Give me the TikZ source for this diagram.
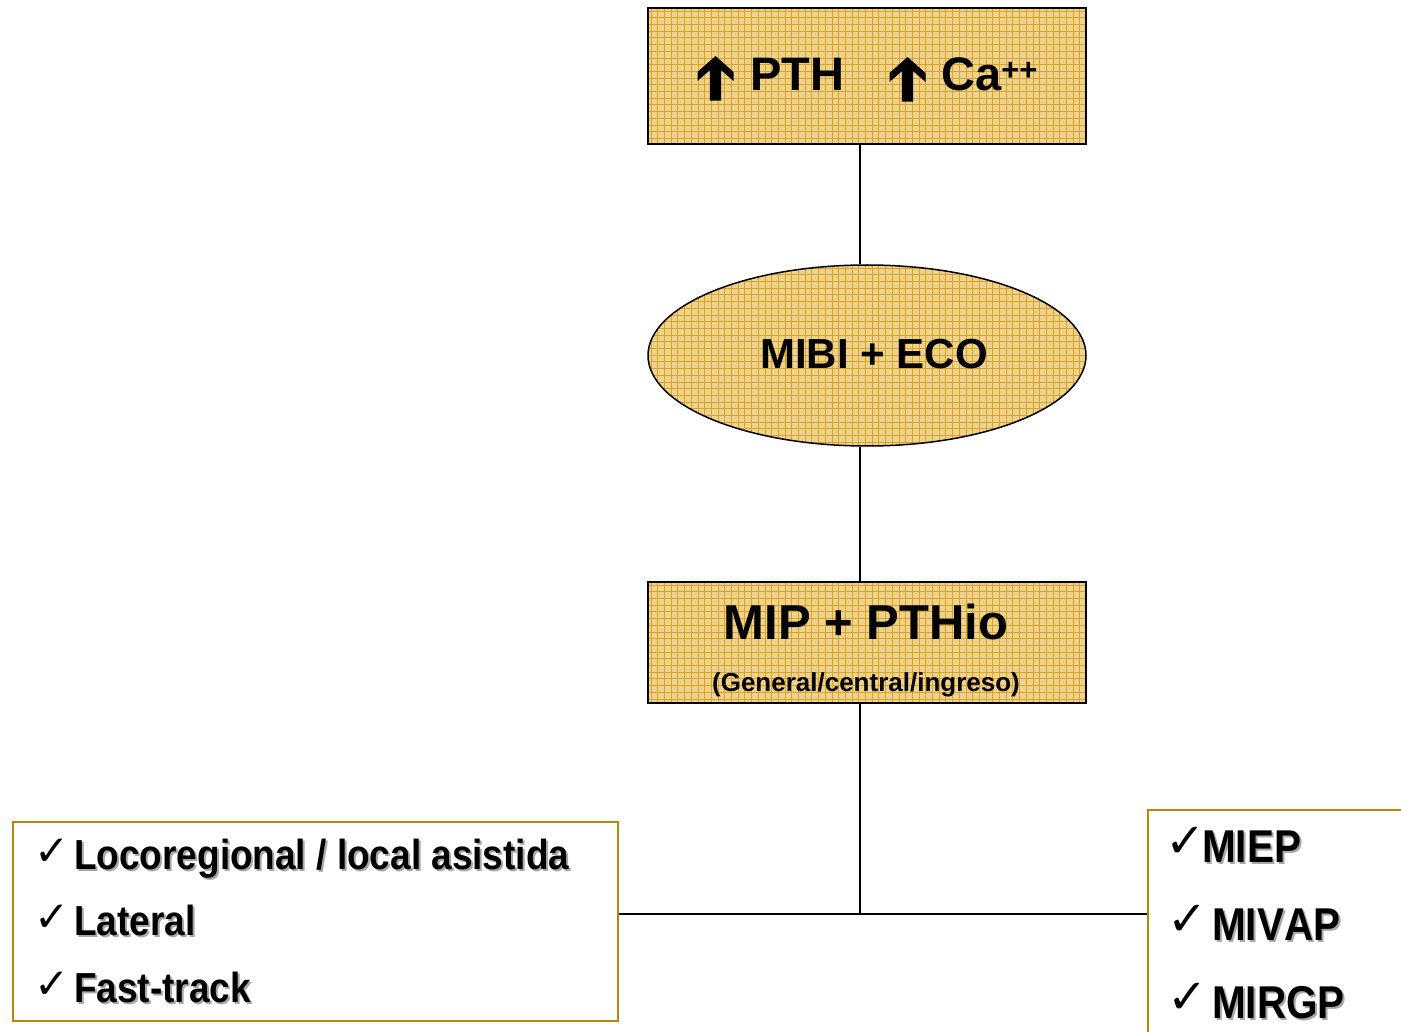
\documentclass[tikz,border=0pt]{standalone}
\usepackage{fontspec}
\setmainfont{Liberation Sans}
\newfontfamily\narrowsans{Liberation Sans}[FakeStretch=0.88, Kerning=Off]
\newfontfamily\symfont{DejaVu Sans}
\usetikzlibrary{shapes.geometric,calc}

\definecolor{boxfill}{HTML}{EDD38E}
\definecolor{gridcol}{HTML}{D9A32A}
\definecolor{goldborder}{HTML}{B8860B}
\definecolor{shadowgray}{HTML}{A8A8A8}

% bold text with a soft grey drop shadow
\newcommand{\shadowed}[1]{\makebox[0pt][l]{\hspace{2pt}\raisebox{-2pt}{\color{shadowgray}#1}}#1}

\tikzset{
  gridfill/.style={fill=boxfill, path picture={
      \foreach \k in {0,...,70}{
        \draw[gridcol, line width=0.7pt]
          ([xshift=\k*6.7pt+3pt]path picture bounding box.north west) --
          ([xshift=\k*6.7pt+3pt]path picture bounding box.south west);
      }
      \foreach \k in {0,...,30}{
        \draw[gridcol, line width=0.7pt]
          ([yshift=-\k*6.7pt-3pt]path picture bounding box.north west) --
          ([yshift=-\k*6.7pt-3pt]path picture bounding box.north east);
      }}},
  gridbox/.style={draw=black, line width=1.8pt, gridfill, rectangle, inner sep=0pt},
  gridoval/.style={draw=black, line width=1.5pt, gridfill, ellipse, inner sep=0pt},
  listbox/.style={draw=goldborder, line width=2pt, fill=white, rectangle, inner sep=0pt},
  conn/.style={draw=black, line width=1.5pt},
  lbl/.style={inner sep=0pt, font=\bfseries},
  checkmk/.style={inner sep=0pt, font=\symfont},
  uparrowmark/.style={fill=black},
}

\begin{document}
\begin{tikzpicture}[x=1pt, y=-1pt]
\useasboundingbox (0,0) rectangle (1401,1032);

% boxes
\node[gridbox, minimum width=438pt, minimum height=136pt] (top) at (867,76) {};
\node[gridoval, minimum width=438pt, minimum height=181pt] (ell) at (867,355.5) {};
\node[gridbox, minimum width=438pt, minimum height=121pt] (mid) at (867,642.5) {};
\node[listbox, minimum width=605pt, minimum height=199pt] (left) at (315.5,921.5) {};
\node[listbox, minimum width=300pt, minimum height=260pt, anchor=north west] (right) at (1147,809) {};

% connectors
\coordinate (j) at (860,914);
\draw[conn] (top.south -| j) -- (ell.north -| j);
\draw[conn] (ell.south -| j) -- (mid.north -| j);
\draw[conn] (mid.south -| j) -- (j);
\draw[conn] (left.east |- j) -- (right.west |- j);

% top box: rising PTH and calcium
\fill[uparrowmark, shift={(715.5,56)}] (0,0) -- (18,16) -- (18,25) -- (5.7,14.2) -- (5.7,44.7)
  -- (-5.7,44.7) -- (-5.7,14.2) -- (-18,25) -- (-18,16) -- cycle;
\fill[uparrowmark, shift={(907.5,57)}] (0,0) -- (18,16) -- (18,25) -- (5.7,14.2) -- (5.7,44.7)
  -- (-5.7,44.7) -- (-5.7,14.2) -- (-18,25) -- (-18,16) -- cycle;
\node[lbl, anchor=base west, font=\bfseries\fontsize{47}{47}\selectfont] (pth) at (750,91) {PTH};
\node[lbl, anchor=base west, font=\bfseries\fontsize{47}{47}\selectfont] (ca) at (941,91)
  {Ca\raisebox{10.5pt}{\fontsize{31}{31}\selectfont ++}};

% ellipse
\node[lbl, anchor=base, font=\bfseries\fontsize{42}{42}\selectfont] (mibi) at (874,369) {MIBI + ECO};

% middle box
\node[lbl, anchor=base, font=\bfseries\fontsize{49}{49}\selectfont] (mip) at (866,639) {MIP + PTHio};
\node[lbl, anchor=base, font=\bfseries\fontsize{26}{26}\selectfont] (gen) at (866,691) {(General/central/ingreso)};

% left list
\foreach \nm/\yy/\txt in {l1/869/{Locoregional / local asistida}, l2/935/Lateral, l3/1002/Fast-track}{
  \node[checkmk, anchor=base west, font=\symfont\fontsize{42}{42}\selectfont] (c\nm) at (34,\yy-4) {✓};
  \node[lbl, anchor=base west, font=\narrowsans\bfseries\fontsize{42}{42}\selectfont] (\nm) at (74,\yy) {\shadowed{\txt}};
}

% right list
\node[checkmk, anchor=base west, font=\symfont\fontsize{48}{48}\selectfont] (cr1) at (1165,857) {✓};
\node[lbl, anchor=base west, font=\narrowsans\bfseries\fontsize{46}{46}\selectfont] (r1) at (1202,862) {\shadowed{MIEP}};
\node[checkmk, anchor=base west, font=\symfont\fontsize{48}{48}\selectfont] (cr2) at (1167,935) {✓};
\node[lbl, anchor=base west, font=\narrowsans\bfseries\fontsize{46}{46}\selectfont] (r2) at (1212,940) {\shadowed{MIVAP}};
\node[checkmk, anchor=base west, font=\symfont\fontsize{48}{48}\selectfont] (cr3) at (1167,1013) {✓};
\node[lbl, anchor=base west, font=\narrowsans\bfseries\fontsize{46}{46}\selectfont] (r3) at (1212,1018) {\shadowed{MIRGP}};
\end{tikzpicture}
\end{document}
